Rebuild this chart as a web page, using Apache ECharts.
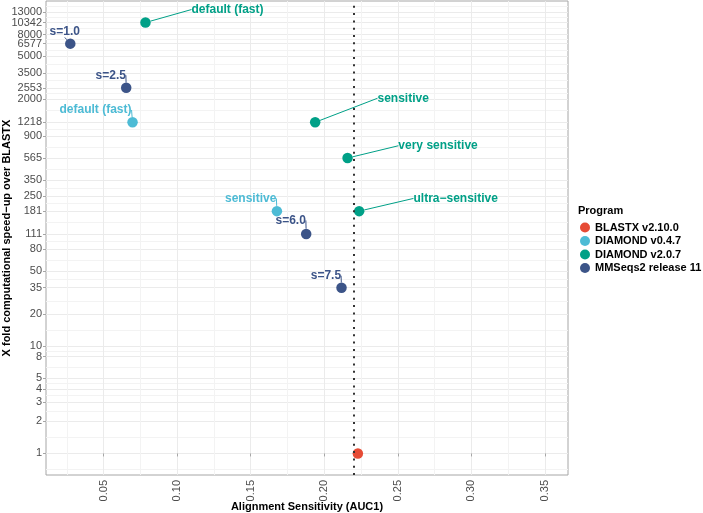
<!DOCTYPE html>
<html><head><meta charset="utf-8">
<script src="https://cdn.jsdelivr.net/npm/echarts@6/dist/echarts.min.js"></script>
<style>html,body{margin:0;padding:0;background:#fff}#c{width:703px;height:513px}</style>
</head><body><div id="c"></div>
<script>
// ---- data ----
const programs = ['BLASTX v2.10.0', 'DIAMOND v0.4.7', 'DIAMOND v2.0.7', 'MMSeqs2 release 11'];
const colors = ['#E64B35', '#4DBBD5', '#00A087', '#3C5488'];

const blastxAUC = [0.2228];
const blastxSpeed = [1];
const blastxLabels = [''];

const diamond047AUC = [0.0697, 0.1678];
const diamond047Speed = [1218, 181];
const diamond047Labels = ['default (fast)', 'sensitive'];

const diamond207AUC = [0.0785, 0.1938, 0.2158, 0.2237];
const diamond207Speed = [10342, 1218, 565, 181];
const diamond207Labels = ['default (fast)', 'sensitive', 'very sensitive', 'ultra\u2212sensitive'];

const mmseqsAUC = [0.0274, 0.0654, 0.1877, 0.2117];
const mmseqsSpeed = [6577, 2553, 111, 35];
const mmseqsLabels = ['s=1.0', 's=2.5', 's=6.0', 's=7.5'];

const yTicks = [1, 2, 3, 4, 5, 8, 10, 20, 35, 50, 80, 111, 181, 250, 350, 565, 900, 1218, 2000, 2553, 3500, 5000, 6577, 8000, 10342, 13000];
const xTicks = [0.05, 0.10, 0.15, 0.20, 0.25, 0.30, 0.35];

const xTitle = 'Alignment Sensitivity (AUC1)';
const yTitle = 'X fold computational speed\u2212up over BLASTX';
const legendTitle = 'Program';

// ---- label nudges (layout only, pixels) ----
const nudge = [
  [[0, 0]],
  [[-37, -12.3], [-26.2, -12.7]],
  [[82, -13], [88, -24], [90.5, -12.3], [96.5, -12.7]],
  [[-5.5, -12.2], [-15.5, -12.5], [-15.5, -13.5], [-15.6, -12]]
];

const FONT = '"Liberation Sans", Arial, Helvetica, sans-serif';
const L10 = Math.log10;
const yMin = -0.2007, yMax = 4.2153;
const xMin = 0.0109, xMax = 0.3656;

function minorBreaks(b) {
  const out = [];
  const n = b.length;
  out.push(b[0] - (b[1] - b[0]) / 2);
  for (let i = 0; i < n - 1; i++) out.push((b[i] + b[i + 1]) / 2);
  out.push(b[n - 1] + (b[n - 1] - b[n - 2]) / 2);
  return out;
}
const yTicksLog = yTicks.map(L10);
// labels split over two overlaid axes so that neighbouring labels are never checked against each other
const yLabelsA = yTicksLog.filter((v, i) => i % 2 === 0);
const yLabelsB = yTicksLog.filter((v, i) => i % 2 === 1);
const yMinor = minorBreaks(yTicksLog).filter(v => v > yMin && v < yMax);
const xMinor = minorBreaks(xTicks).filter(v => v > xMin && v < xMax);

const groups = [
  [blastxAUC, blastxSpeed, blastxLabels],
  [diamond047AUC, diamond047Speed, diamond047Labels],
  [diamond207AUC, diamond207Speed, diamond207Labels],
  [mmseqsAUC, mmseqsSpeed, mmseqsLabels]
];

const series = groups.map((g, si) => {
  const data = g[0].map((x, i) => [x, L10(g[1][i]), g[2][i]]);
  const s = {
    name: programs[si],
    type: 'scatter',
    xAxisIndex: 0, yAxisIndex: 0,
    symbol: 'circle',
    symbolSize: 10.5,
    itemStyle: { color: colors[si], opacity: 1 },
    data: data,
    label: {
      show: si !== 0,
      position: 'inside',
      formatter: p => p.data[2],
      color: colors[si],
      fontFamily: FONT,
      fontWeight: 'bold',
      fontSize: 12
    },
    labelLine: { show: true, lineStyle: { color: colors[si], width: 1 } },
    labelLayout: p => ({ dx: nudge[si][p.dataIndex][0], dy: nudge[si][p.dataIndex][1] }),
    emphasis: { disabled: true },
    z: 3
  };
  if (si === 0) {
    s.markLine = {
      silent: true,
      symbol: ['none', 'none'],
      label: { show: false },
      lineStyle: { color: '#333333', width: 2, type: [2, 5.3], opacity: 1 },
      data: [{ xAxis: blastxAUC[0] }],
      z: 10
    };
  }
  return s;
});

const yLabelStyle = {
  margin: 4, hideOverlap: false, showMinLabel: true, showMaxLabel: true,
  formatter: v => String(Math.round(Math.pow(10, v))),
  color: '#4D4D4D', fontSize: 11, fontFamily: FONT
};

const chart = echarts.init(document.getElementById('c'), null, { renderer: 'canvas' });
chart.setOption({
  animation: false,
  backgroundColor: '#ffffff',
  grid: { left: 46, right: 135, top: 1, bottom: 38, show: true, borderColor: '#A6A6A6', borderWidth: 1, backgroundColor: 'transparent', containLabel: false, outerBoundsMode: 'none' },
  xAxis: [
    {
      type: 'value', min: xMin, max: xMax, position: 'bottom',
      axisLine: { show: false },
      axisTick: { show: true, customValues: xTicks, length: 3, lineStyle: { color: '#A6A6A6', width: 1 } },
      axisLabel: { customValues: xTicks, rotate: 90, margin: 5, hideOverlap: false, showMinLabel: true, showMaxLabel: true, formatter: v => v.toFixed(2), color: '#4D4D4D', fontSize: 11, fontFamily: FONT },
      splitLine: { show: true, lineStyle: { color: '#EBEBEB', width: 1 } }
    },
    {
      type: 'value', min: xMin, max: xMax, position: 'top',
      axisLine: { show: false },
      axisTick: { show: false, customValues: xMinor },
      axisLabel: { show: false },
      splitLine: { show: true, lineStyle: { color: '#F3F3F3', width: 1 } }
    }
  ],
  yAxis: [
    {
      type: 'value', min: yMin, max: yMax, position: 'left',
      axisLine: { show: false },
      axisTick: { show: true, customValues: yTicksLog, length: 3, lineStyle: { color: '#A6A6A6', width: 1 } },
      axisLabel: Object.assign({ customValues: yLabelsA }, yLabelStyle),
      splitLine: { show: true, lineStyle: { color: '#EBEBEB', width: 1 } }
    },
    {
      type: 'value', min: yMin, max: yMax, position: 'right',
      axisLine: { show: false },
      axisTick: { show: false, customValues: yMinor },
      axisLabel: { show: false },
      splitLine: { show: true, lineStyle: { color: '#F3F3F3', width: 1 } }
    },
    {
      type: 'value', min: yMin, max: yMax, position: 'left', offset: 0,
      axisLine: { show: false },
      axisTick: { show: false, customValues: yLabelsB },
      axisLabel: Object.assign({ customValues: yLabelsB }, yLabelStyle),
      splitLine: { show: false }
    }
  ],
  legend: {
    orient: 'vertical', left: 580, top: 222, padding: 0,
    itemWidth: 10, itemHeight: 10, itemGap: 2.5,
    icon: 'circle',
    data: programs,
    textStyle: { color: '#000', fontWeight: 'bold', fontSize: 11, fontFamily: FONT }
  },
  graphic: [
    { type: 'text', left: 578, top: 205, style: { text: legendTitle, fill: '#000', font: 'bold 11px ' + FONT } },
    { type: 'text', x: 307, y: 507, style: { text: xTitle, fill: '#000', font: 'bold 11px ' + FONT, textAlign: 'center', textVerticalAlign: 'middle' } },
    { type: 'text', x: 7, y: 238, rotation: Math.PI / 2, style: { text: yTitle, fill: '#000', font: 'bold 11px ' + FONT, textAlign: 'center', textVerticalAlign: 'middle' } }
  ],
  series: series
});
</script>
</body></html>
